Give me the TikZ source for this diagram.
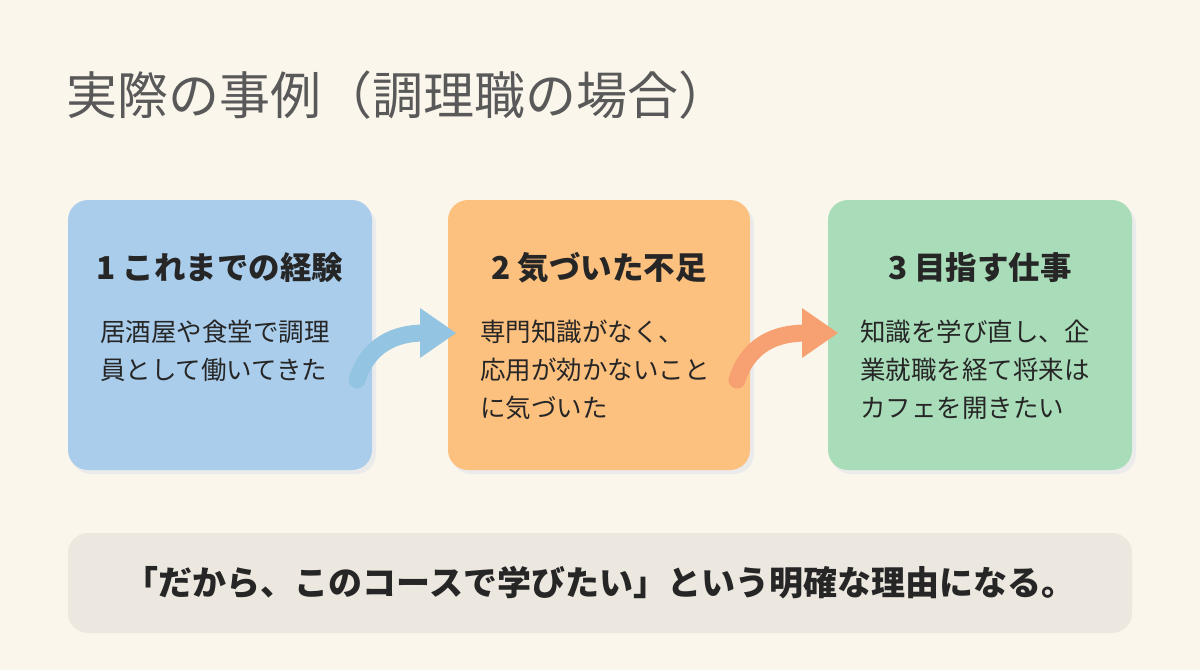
\documentclass[tikz,border=0pt]{standalone}
\usepackage{fontspec}
\setmainfont{Noto Sans CJK JP}
\begin{document}
\begin{tikzpicture}[x=1pt,y=-1pt,
  card/.style={rounded corners=20pt,draw=none},
  head/.style={font=\fontsize{31.5}{36}\selectfont\bfseries,text=black!85,anchor=center},
  body/.style={font=\fontsize{25.5}{38}\selectfont,text=black!85,align=left,anchor=north west,inner sep=0pt},
  shaft/.style={line width=17pt},
]
\definecolor{bg}{HTML}{FBF6EC}
\definecolor{cb}{HTML}{A9CDEB}
\definecolor{co}{HTML}{FCC07F}
\definecolor{cg}{HTML}{A9DDB9}
\definecolor{ab}{HTML}{93C5E2}
\definecolor{ao}{HTML}{F7A072}
\definecolor{bot}{HTML}{ECE8DF}
\fill[bg] (0,0) rectangle (1200,670);
\useasboundingbox (0,0) rectangle (1200,670);
\node[anchor=west,font=\fontsize{51}{58}\selectfont,text=black!65,inner sep=0pt] (title) at (66,95) {実際の事例（調理職の場合）};
\fill[card,black!8] (71,205) rectangle (376,474);
\fill[card,black!8] (451,205) rectangle (754,474);
\fill[card,black!8] (831,205) rectangle (1136,474);
\fill[card,cb] (68,200) rectangle (372,470);
\fill[card,co] (448,200) rectangle (750,470);
\fill[card,cg] (828,200) rectangle (1132,470);
\node[head] (h1) at (220,268) {1 これまでの経験};
\node[head] (h2) at (599,268) {2 気づいた不足};
\node[head] (h3) at (980,268) {3 目指す仕事};
\node[body] (b1) at (100,320) {居酒屋や食堂で調理\\員として働いてきた};
\node[body] (b2) at (480,320) {専門知識がなく、\\応用が効かないこと\\に気づいた};
\node[body] (b3) at (860,320) {知識を学び直し、企\\業就職を経て将来は\\カフェを開きたい};
\coordinate (s1) at (357,380); \coordinate (e1) at (424,333);
\coordinate (s2) at (737,380); \coordinate (e2) at (806,333);
\draw[shaft,ab,line cap=round] (s1) .. controls (368,345) and (395,333) .. (e1);
\fill[ab] (420,308) -- (456,333) -- (420,358) -- cycle;
\draw[shaft,ao,line cap=round] (s2) .. controls (748,345) and (775,333) .. (e2);
\fill[ao] (802,308) -- (838,333) -- (802,358) -- cycle;
\fill[rounded corners=20pt,bot] (68,533) rectangle (1132,633);
\node[font=\fontsize{34}{40}\selectfont\bfseries,text=black!85] (q) at (600,583) {「だから、このコースで学びたい」という明確な理由になる。};
\end{tikzpicture}
\end{document}
